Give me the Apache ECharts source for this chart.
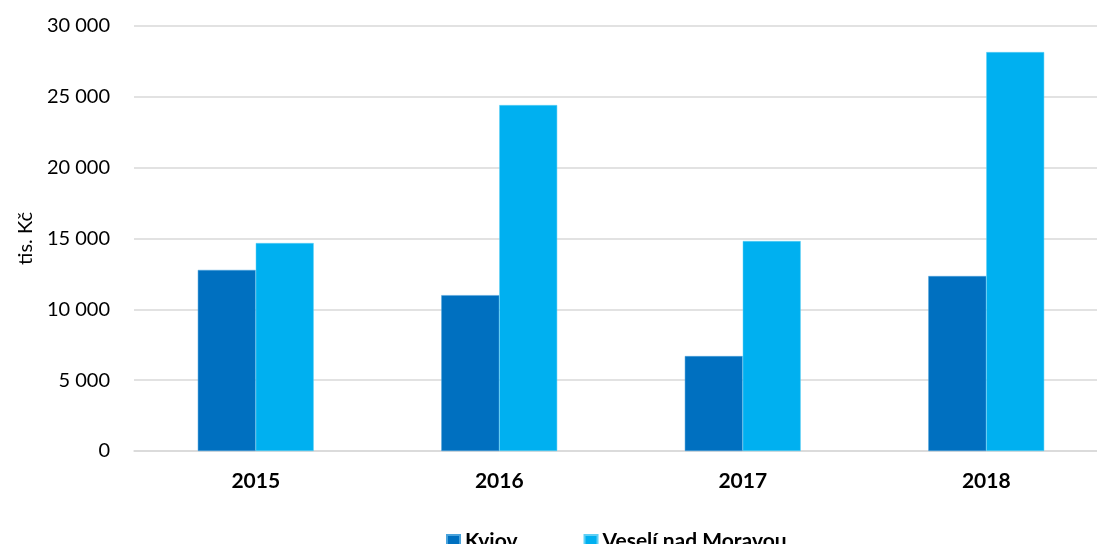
<!DOCTYPE html>
<html>
<head>
<meta charset="utf-8">
<script src="https://cdn.jsdelivr.net/npm/echarts@6/dist/echarts.min.js"></script>
<style>html,body{margin:0;padding:0;background:#fff;overflow:hidden}#c{width:1108px;height:544px}</style>
</head>
<body>
<div id="c"></div>
<script>
const categories = ['2015', '2016', '2017', '2018'];
const kyjov = [12780, 11000, 6700, 12350];
const veseli = [14680, 24420, 14820, 28160];
const seriesNames = ['Kyjov', 'Veselí nad Moravou'];
const yAxisName = 'tis. Kč';

const chart = echarts.init(document.getElementById('c'));
const font = 'Lato, "Open Sans", sans-serif';
chart.setOption({
  animation: false,
  grid: { left: 134, right: 0, top: 26, bottom: 93 },
  legend: {
    left: 441, top: 526,
    itemWidth: 13, itemHeight: 13, itemGap: 66,
    icon: 'rect',
    textStyle: { fontFamily: font, fontSize: 21, fontWeight: 'bold', color: '#000' },
    data: seriesNames
  },
  xAxis: {
    type: 'category', data: categories,
    axisLine: { show: true, lineStyle: { color: '#d9d9d9', width: 1.5 } },
    axisTick: { show: false },
    axisLabel: { fontFamily: font, fontSize: 21, fontWeight: 'bold', color: '#000', margin: 20 }
  },
  yAxis: {
    type: 'value', min: 0, max: 30000, interval: 5000,
    name: yAxisName, nameLocation: 'middle', nameGap: 94, nameRotate: 90,
    nameTextStyle: { fontFamily: font, fontSize: 20, color: '#000' },
    axisLine: { show: false }, axisTick: { show: false },
    splitLine: { lineStyle: { color: '#d9d9d9', width: 1.5 } },
    axisLabel: {
      fontFamily: font, fontSize: 20, color: '#000', margin: 24,
      formatter: v => String(v).replace(/\B(?=(\d{3})+(?!\d))/g, ' ')
    }
  },
  series: [
    { name: seriesNames[0], type: 'bar', data: kyjov, barWidth: '23.8%', barGap: '0%',
      itemStyle: { color: '#0070C0', borderColor: '#4aa3dc', borderWidth: 0.5 } },
    { name: seriesNames[1], type: 'bar', data: veseli, barWidth: '23.8%', barGap: '0%',
      itemStyle: { color: '#00B0F0', borderColor: '#5fd0f5', borderWidth: 0.5 } }
  ]
});
</script>
</body>
</html>
